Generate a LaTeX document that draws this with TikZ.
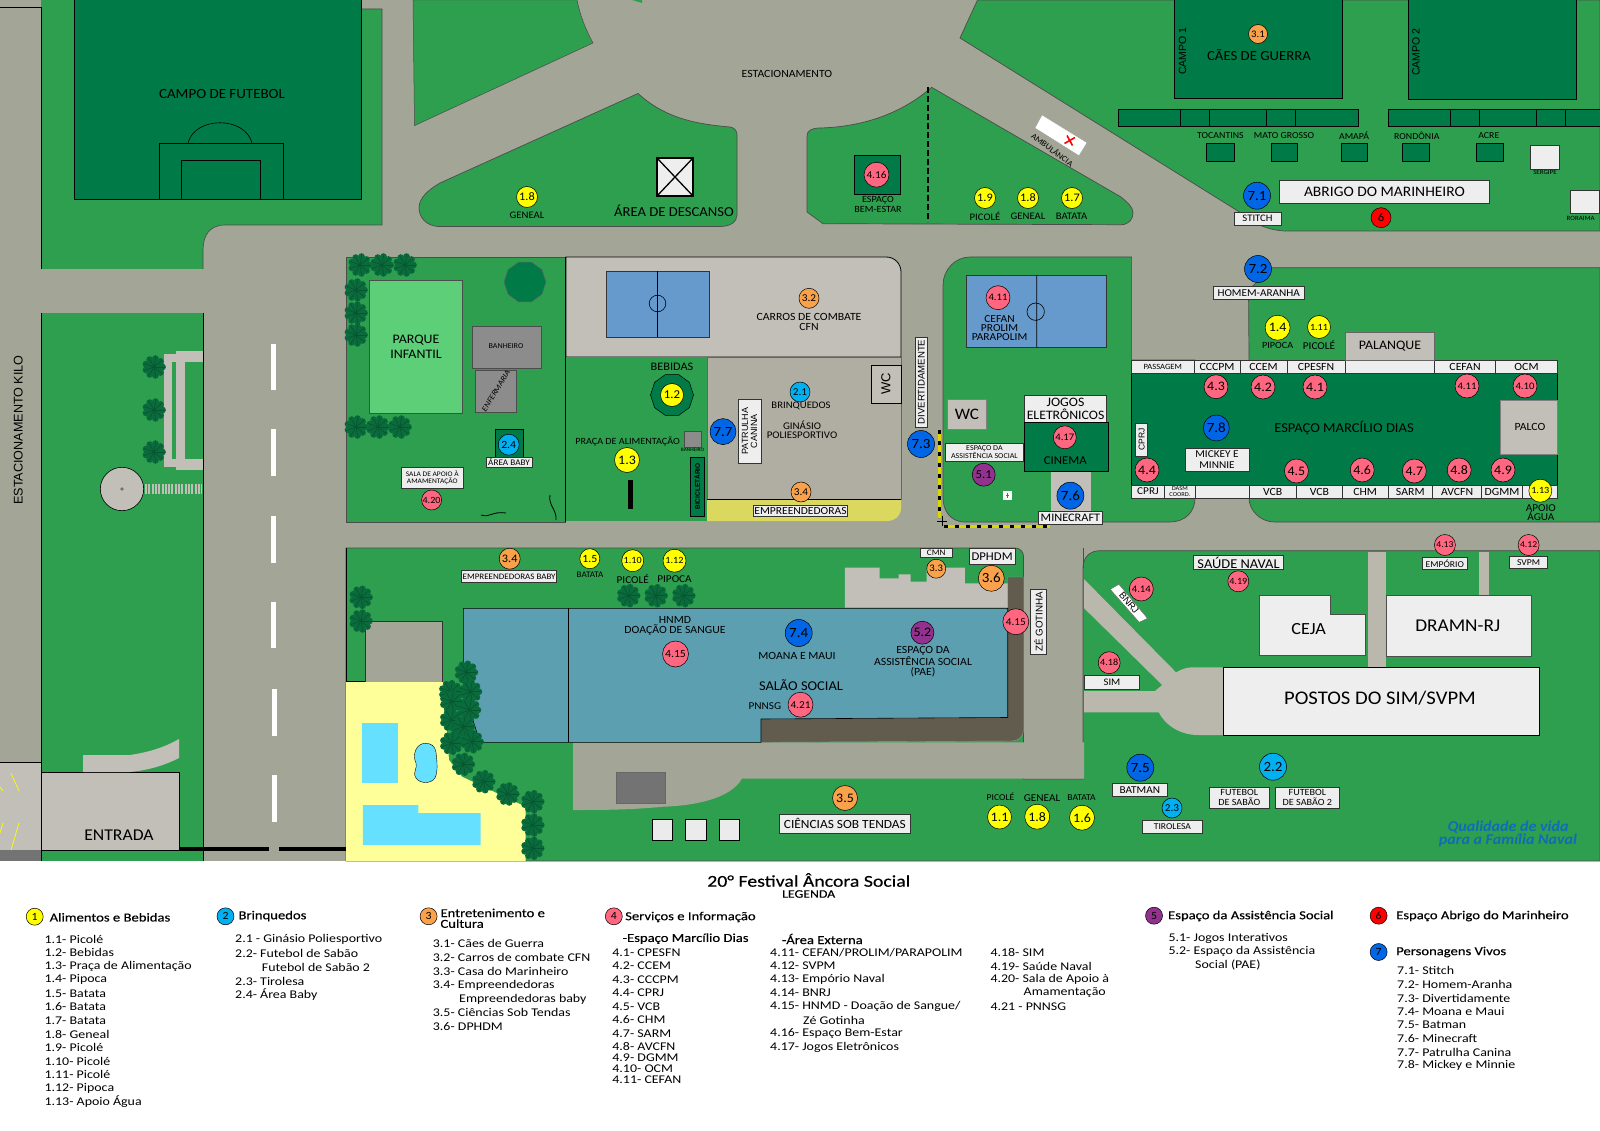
\documentclass[tikz,border=0pt]{standalone}
\usepackage{fontspec}
\setmainfont[FakeStretch=1.07]{Carlito}
\newfontfamily\lsans{Liberation Sans}
\newfontfamily\medf[FakeBold=0.35,FakeStretch=1.2]{Carlito}
\newfontfamily\wide[FakeStretch=1.18]{Carlito}
\usetikzlibrary{shapes.geometric}
\definecolor{road}{HTML}{A3A596}
\definecolor{grass}{HTML}{2E9E4F}
\definecolor{field}{HTML}{007A47}
\definecolor{bldg}{HTML}{C2BFB8}
\definecolor{gym}{HTML}{B0AEA3}
\definecolor{boxf}{HTML}{EEEEEE}
\definecolor{court}{HTML}{6699CC}
\definecolor{hall}{HTML}{5B9FB0}
\definecolor{brownst}{HTML}{625C4E}
\definecolor{pathc}{HTML}{BAB8AD}
\definecolor{pool}{HTML}{66E0FF}
\definecolor{sand}{HTML}{FFFF99}
\definecolor{parkg}{HTML}{5CCF78}
\definecolor{ystrip}{HTML}{DBD860}
\definecolor{mY}{HTML}{FFFF00}
\definecolor{mC}{HTML}{00B0F0}
\definecolor{mO}{HTML}{F9A24B}
\definecolor{mP}{HTML}{FF6680}
\definecolor{mV}{HTML}{93328E}
\definecolor{mR}{HTML}{FF0000}
\definecolor{mB}{HTML}{0066E6}
\definecolor{treeA}{HTML}{0A6B3C}
\definecolor{treeB}{HTML}{07552F}
\definecolor{logoc}{HTML}{0F6CB8}
\newcount\nid
\tikzset{
 gr/.style={fill=grass,draw=black!70,line width=.5pt},
 dk/.style={fill=field,draw=black,line width=.7pt},
 bl/.style={fill=boxf,draw=black!80,line width=.6pt},
 mkst/.style={circle,draw=black,line width=.5pt,inner sep=0pt,text=black}
}
% marker: colour, x, y, radius, font size, label
\newcommand\mk[6]{\global\advance\nid by 1 \node[mkst,fill=#1,minimum size=#4*2pt,font=\fontsize{#5}{#5}\selectfont] (n\the\nid) at (#2,#3) {#6};}
% label: [line height], x, y, size, text
\newcommand\lbl[5][12]{\global\advance\nid by 1 \node[inner sep=0pt,align=center,font=\fontsize{#4}{#1}\selectfont] (n\the\nid) at (#2,#3) {#5};}
% rotated label: angle, x, y, size, text
\newcommand\rlb[5]{\global\advance\nid by 1 \node[inner sep=0pt,rotate=#1,font=\fontsize{#4}{#4}\selectfont] (n\the\nid) at (#2,#3) {#5};}
% box: [node options], x1,y1,x2,y2,size,text
\newcommand\bxx[6][]{\global\advance\nid by 1 \draw[bl] (#2,#3) rectangle (#4,#5) node[pos=.5,inner sep=0pt,align=center,font=\fontsize{#6}{#6}\selectfont,#1] (n\the\nid) {\bxxtext};}
\newcommand\bt[7][]{\def\bxxtext{#7}\bxx[#1]{#2}{#3}{#4}{#5}{#6}}
\newcommand\treeat[2]{\begin{scope}[shift={(#1,#2)}]
 \fill[treeA] (0,0) circle (9);
 \foreach \aa in {0,40,...,320}{\fill[treeA] (\aa:8.5) circle (3.4);\draw[treeB,line width=.6pt] (0,0) -- (\aa:11);}
 \end{scope}}
\newcommand\li[3]{\global\advance\nid by 1 \node[anchor=west,inner sep=0pt,font=\wide\fontsize{11.8}{12}\selectfont] (n\the\nid) at (#1,#2) {#3};}
\newcommand\hd[3]{\global\advance\nid by 1 \node[anchor=west,inner sep=0pt,align=left,font=\medf\fontsize{12.2}{10.7}\selectfont] (n\the\nid) at (#1,#2) {#3};}
\begin{document}
\begin{tikzpicture}[x=1pt,y=-1pt,line cap=butt]
\useasboundingbox (0,0) rectangle (1600,1131);
\fill[white] (0,0) rectangle (1600,1131);
\fill[road] (0,0) rectangle (1600,861);
% ---------- left strip
\draw[black,line width=.8pt] (0,7) -- (41,7);
\fill[bldg] (0,762) rectangle (41,850);
\fill[black!55] (0,850) rectangle (41,861);
\draw[black,line width=.8pt] (0,762) -- (41,762);
\draw[mY,line width=.7pt] (11,773)--(19,791) (0,787)--(3,791) (19,823)--(11,850) (3,823)--(0,833);
\node[rotate=90,inner sep=0pt,font=\lsans\fontsize{12.6}{12.6}\selectfont] (kilo) at (18.4,430) {ESTACIONAMENTO KILO};
% ---------- green top left
\fill[grass] (41,0)--(361,0)--(361,9)--(382,9)--(382,225)--(225,225) .. controls (210,225) and (203,235) .. (203,250)--(203,269)--(41,269)--cycle;
\draw[black,line width=.7pt] (41,7)--(41,269);
\draw[black!70,line width=.6pt] (361,9)--(382,9)--(382,225)--(225,225) .. controls (210,225) and (203,235) .. (203,250)--(203,269);
\draw[dk] (74.5,-1) rectangle (361,199.5);
\draw[black,line width=.5pt] (159,199.5)--(159,143)--(283,143)--(283,199.5) (181,199.5)--(181,160)--(260,160)--(260,199.5);
\draw[black,line width=.6pt] (188,143) .. controls (195,116) and (245,116) .. (252,143);
\lbl{222}{94}{14}{CAMPO DE FUTEBOL}
% ---------- green triangles top
\draw[gr] (413,0)--(414.5,125.6)--(593,43) .. controls (585,28) and (580,15) .. (577,0)--cycle;
\fill[grass] (632,0)--(642,3)--(642,0)--cycle;
\draw[gr,line width=.7pt] (638,93.5) .. controls (665,118) and (695,124) .. (730,127) .. controls (735,128) and (737,131) .. (737,135)--(737,215) .. controls (737,222) and (730,226.5) .. (720,226.5)--(440,226.5) .. controls (425,226.5) and (419,216) .. (419,208) .. controls (419,198) and (428,190) .. (440,183)--cycle;
\draw[fill=boxf,draw=black,line width=1.3pt] (657,158) rectangle (693,196);
\draw[black,line width=1.3pt] (657,158)--(693,196) (693,158)--(657,196);
\lbl{674}{211}{13.7}{ÁREA DE DESCANSO}
\mk{mY}{527}{197}{10.5}{11.5}{1.8}
\lbl{527}{215}{10}{GENEAL}
\lbl{787}{73.5}{11}{ESTACIONAMENTO}
% ---------- bem-estar / triangle
\draw[gr,line width=.7pt] (931.6,87.3) .. controls (900,115) and (860,127) .. (820,128) .. controls (811,128) and (807,131) .. (807,136)--(807,212)--(823,223.7)--(1121,224.7) .. controls (1129,224.7) and (1133,219) .. (1133,213) .. controls (1133,207) and (1128,203) .. (1121,197)--cycle;
\draw[black,line width=1.1pt,dash pattern=on 6pt off 3pt] (928,87) -- (928,222);
\draw[dk] (854.6,155) rectangle (900.5,194);
\mk{mP}{876.5}{174.7}{12.5}{10.5}{4.16}
\lbl[9.2]{878}{204.5}{9.5}{ESPAÇO\\BEM-ESTAR}
\mk{mY}{985}{198}{10.5}{11.5}{1.9}
\mk{mY}{1028}{198}{10.5}{11.5}{1.8}
\mk{mY}{1072}{198}{10.5}{11.5}{1.7}
\lbl{985}{216}{10}{PICOLÉ}
\lbl{1028}{216}{10}{GENEAL}
\lbl{1071.5}{216}{10}{BATATA}
\fill[white,draw=black!40,line width=.3pt] (1042,115)--(1087,142.7)--(1079,155.7)--(1035,128)--cycle;
\draw[mR,line width=1.6pt] (1064.5,143.5)--(1075,137.5) (1067,135.5)--(1072.5,145.5);
\rlb{-37}{1052.5}{149.5}{8.3}{AMBULÂNCIA}
% ---------- top right green
\draw[gr,line width=.7pt] (977.5,0)--(960,38)--(1239,211.7) .. controls (1250,222) and (1268,231) .. (1287,231)--(1600,231)--(1600,0)--cycle;
\draw[dk] (1174.5,-1) rectangle (1342,98.5);
\draw[dk] (1408.7,-1) rectangle (1576.5,99.5);
\node[rotate=90,inner sep=0pt,font=\lsans\fontsize{10.5}{10.5}\selectfont] (c1) at (1182.6,51) {CAMPO 1};
\node[rotate=90,inner sep=0pt,font=\lsans\fontsize{10.5}{10.5}\selectfont] (c2) at (1416,52) {CAMPO 2};
\mk{mO}{1258}{34}{9.5}{10}{3.1}
\lbl{1259}{55}{13.8}{CÃES DE GUERRA}
\draw[dk] (1118,109) rectangle (1358.7,126.7);
\draw[black,line width=.5pt] (1180.6,109)--(1180.6,126.7) (1209.7,109)--(1209.7,126.7) (1266.3,109)--(1266.3,126.7) (1295.4,109)--(1295.4,126.7);
\draw[dk] (1388,109) rectangle (1601,126.7);
\draw[black,line width=.5pt] (1450.5,109)--(1450.5,126.7) (1479.6,109)--(1479.6,126.7) (1536.7,109)--(1536.7,126.7) (1565.3,109)--(1565.3,126.7);
\lbl{1220.4}{135.3}{9.2}{TOCANTINS}
\lbl{1284}{135.3}{9.2}{MATO GROSSO}
\lbl{1354}{135.3}{9.2}{AMAPÁ}
\lbl{1416.8}{135.3}{9.2}{RONDÔNIA}
\lbl{1488.8}{135.3}{9.2}{ACRE}
\foreach \xa/\xb in {1206.6/1234,1271/1297.4,1340.8/1367.3,1402.5/1429,1476.5/1503.6}{\draw[dk,line width=.5pt] (\xa,143.3) rectangle (\xb,161.7);}
\draw[bl] (1530.6,145) rectangle (1559.7,169);
\lbl{1545}{172.7}{6.5}{SERGIPE}
\draw[bl] (1570.4,190.7) rectangle (1599,213.3);
\lbl{1580.6}{218}{6.5}{RORAIMA}
\bt{1279.6}{180}{1489.3}{203.3}{14.5}{ABRIGO DO MARINHEIRO}
\mk{mB}{1257}{195.7}{13.5}{14}{7.1}
\bt{1234}{212.3}{1281}{225}{10}{STITCH}
\mk{mR}{1381}{217.7}{10}{12}{6}
% ---------- parque block
\draw[gr,line width=.7pt] (346,257)--(565,257)--(565,522)--(346,522)--cycle;
\draw[fill=parkg,draw=black!70,line width=.5pt] (369.5,280) rectangle (462.5,413);
\lbl[15]{416}{346.5}{13}{PARQUE\\INFANTIL}
\draw[fill=black!45,draw=black!70,line width=.5pt] (472.5,326) rectangle (541,368);
\lbl{506}{346}{7.5}{BANHEIRO}
\draw[fill=black!45,draw=black!70,line width=.5pt] (475,370.5) rectangle (516,412.5);
\rlb{58}{496}{391}{8}{\itshape ENFERMARIA}
\node[regular polygon,regular polygon sides=10,minimum size=42pt,inner sep=0pt,fill=field,draw=black!60,line width=.5pt] (oct1) at (525,282) {};
\foreach \xx/\yy in {360/265,382/265,405/265,356/290,356/313,356/335,356/427,378/427,400/427}{\treeat{\xx}{\yy}}
\draw[dk,line width=.3pt] (495,429) rectangle (523.5,457);
\mk{mC}{508.7}{444.7}{10.5}{11}{2.4}
\bt{486}{457}{532}{467}{8.6}{ÁREA BABY}
\bt{401.5}{467}{463}{488}{7}{SALA DE APOIO À\\AMAMENTAÇÃO}
\mk{mP}{431.6}{500}{10}{9.5}{4.20}
\draw[black,line width=.8pt] (550,495) .. controls (548,505) and (557,510) .. (556,520) (481,515) .. controls (490,518) and (492,511) .. (506,513);
% ---------- ginasio block
\filldraw[fill=bldg,draw=black,line width=.8pt] (566,257)--(886,257) .. controls (895,257) and (901,264) .. (901,272)--(901,357)--(566,357)--cycle;
\fill[grass] (566,357) rectangle (707,521);
\filldraw[fill=gym,draw=black!60,line width=.5pt] (707,357)--(901,357)--(901,499)--(707,499)--cycle;
\fill[ystrip] (707,499)--(901,499)--(901,508) .. controls (901,516) and (895,521) .. (887,521)--(707,521)--cycle;
\draw[black,line width=.8pt] (707,499)--(901,499);
\draw[black,line width=1.5pt] (565.5,257)--(565.5,522);
\draw[fill=court,draw=black!80,line width=.6pt] (606,271) rectangle (709,337);
\draw[black,line width=.6pt] (657.5,271)--(657.5,337);
\draw[black,line width=.6pt] (657.5,303.5) circle (8.3);
\mk{mO}{809}{298.3}{10}{10.5}{3.2}
\lbl[10.5]{809}{322}{11}{CARROS DE COMBATE\\CFN}
\lbl{672}{367}{11.5}{BEBIDAS}
\node[regular polygon,regular polygon sides=10,minimum size=43pt,inner sep=0pt,fill=field,draw=black,line width=.5pt] (oct2) at (672,395) {};
\mk{mY}{672}{395}{11.5}{12}{1.2}
\mk{mC}{800}{392}{10}{10.5}{2.1}
\lbl{801}{406}{10}{BRINQUEDOS}
\lbl[9.5]{802}{430}{10.2}{GINÁSIO\\POLIESPORTIVO}
\mk{mB}{723}{431.6}{13}{14}{7.7}
\bt[rotate=90]{738}{399}{761}{463}{9}{\lsans PATRULHA\\\lsans CANINA}
\lbl{627.5}{441.7}{9.5}{PRAÇA DE ALIMENTAÇÃO}
\filldraw[fill=black!45,draw=black!70,line width=.4pt] (684,431) rectangle (701.5,447);
\lbl{692.5}{450}{5}{BANHEIRO}
\mk{mY}{627}{460}{12.5}{13}{1.3}
\fill[black] (628,480) rectangle (633,509);
\draw[dk,line width=.3pt] (690,457) rectangle (704,516);
\node[rotate=90,inner sep=0pt,font=\lsans\bfseries\fontsize{6.5}{7}\selectfont] (bici) at (697,486.5) {BICICLETÁRIO};
\bt{753.6}{505}{847.4}{516.7}{10.8}{EMPREENDEDORAS}
\mk{mO}{801}{492}{10}{10.5}{3.4}
\draw[fill=bldg,draw=black,line width=.7pt] (871.4,365) rectangle (901,403);
\node[rotate=90,inner sep=0pt,font=\lsans\fontsize{13}{13}\selectfont] (wc1) at (886,384) {WC};
\bt[rotate=90]{915}{337}{927.5}{427}{9.6}{\lsans DIVERTIDAMENTE}
\mk{mB}{921}{444}{13.5}{14}{7.3}
% ---------- cinema block
\draw[gr,line width=.7pt] (970,257)--(1131.6,257)--(1131.6,360)--(1195,360)--(1195,498) .. controls (1195,512) and (1185,522) .. (1170,522)--(965,522) .. controls (950,522) and (943,510) .. (943,498)--(943,285) .. controls (943,270) and (955,257) .. (970,257)--cycle;
\draw[fill=court,draw=black!80,line width=.6pt] (966.3,275.3) rectangle (1106.6,347.7);
\draw[black,line width=.6pt] (1036.7,275.3)--(1036.7,347.7) (1035.7,311.7) circle (8.7);
\mk{mP}{998}{297.7}{12}{10}{4.11}
\lbl[9.2]{999.5}{328.3}{10.7}{CEFAN\\PROLIM\\PARAPOLIM}
\draw[fill=bldg,draw=black!50,line width=.5pt] (947.4,399.3) rectangle (986.2,429);
\lbl{967}{414}{16}{WC}
\bt{1024.5}{395.7}{1106.6}{422.7}{12.9}{JOGOS\\ELETRÔNICOS}
\draw[dk,line width=.5pt] (1024.5,422.7) rectangle (1108.7,471.7);
\mk{mP}{1064.8}{437.3}{11.5}{10}{4.17}
\lbl{1065.3}{460.7}{12}{CINEMA}
\fill[bldg] (1051,472.3) rectangle (1090.8,511.7);
\mk{mB}{1070.4}{495.7}{13.5}{14}{7.6}
\bt{1038.3}{511.7}{1102.6}{524}{11.5}{MINECRAFT}
\bt{945.4}{443.3}{1023.5}{461}{7.5}{ESPAÇO DA\\ASSISTÊNCIA SOCIAL}
\mk{mV}{983.7}{474.7}{11.5}{12}{5.1}
\fill[white] (1003,491) rectangle (1012,500);
\draw[black!60,line width=.3pt] (1007.5,493)--(1007.5,498) (1006,495.5)--(1009,495.5);
\draw[mY!85!black,line width=3pt] (939,430)--(939,518) (944,526.7)--(1050,526.7);
\draw[black,line width=3pt,dash pattern=on 4pt off 7pt] (939,430)--(939,518) (944,526.7)--(1050,526.7);
\draw[black,line width=.7pt] (937,521)--(947,521) (942,516)--(942,526);
% ---------- marcilio block
\draw[gr,line width=.7pt] (1272,267.7)--(1600,267.7)--(1600,522)--(1274.5,522) .. controls (1260,522) and (1249,510) .. (1249,498)--(1249,360)--(1248.5,290)--cycle;
\draw[dk] (1131.6,360) rectangle (1557.6,498);
\fill[boxf] (1131.6,360) rectangle (1557.6,373);
\foreach \xa/\xb/\sz/\tx in {1131.6/1194/8/PASSAGEM,1194/1240/11/CCCPM,1240/1287/11/CCEM,1287/1345/11/CPESFN,1345/1434.7/11/{},1434.7/1495.4/11/CEFAN,1495.4/1557.6/11/OCM}{
 \global\advance\nid by 1 \draw[bl,line width=.5pt] (\xa,360) rectangle (\xb,373) node[pos=.5,inner sep=0pt,font=\fontsize{\sz}{\sz}\selectfont] (n\the\nid) {\tx};}
\draw[fill=bldg,draw=black!60,line width=.5pt] (1345.4,332.3) rectangle (1434.7,360);
\lbl{1390}{346}{13}{PALANQUE}
\mk{mP}{1216}{386.7}{12}{13}{4.3}
\mk{mP}{1263}{387}{12}{13}{4.2}
\mk{mP}{1315}{387}{12}{13}{4.1}
\mk{mP}{1467}{386}{12}{10}{4.11}
\mk{mP}{1525}{386}{12}{10}{4.10}
\mk{mB}{1216.3}{428}{13}{14}{7.8}
\lbl{1344}{428}{13.6}{ESPAÇO MARCÍLIO DIAS}
\draw[fill=bldg,draw=black!50,line width=.5pt] (1500.5,400) rectangle (1557.6,454);
\lbl{1530}{427}{11}{PALCO}
\bt[rotate=90]{1135.7}{423.3}{1147.5}{456}{8.5}{\lsans CPRJ}
\bt{1185}{448.3}{1249}{471}{10.5}{MICKEY E\\MINNIE}
\mk{mP}{1147}{470}{12}{13}{4.4}
\mk{mP}{1296.4}{471}{12}{13}{4.5}
\mk{mP}{1362.2}{470}{12}{13}{4.6}
\mk{mP}{1414.3}{471}{12}{13}{4.7}
\mk{mP}{1459.2}{470}{12}{13}{4.8}
\mk{mP}{1503}{470}{12}{13}{4.9}
\foreach \xa/\xb/\sz/\tx in {1131.6/1164.3/10.5/CPRJ,1164.3/1195.4/6/{DASM\\COORD.},1195.4/1249/11/{},1249/1296.4/11/VCB,1296.4/1342.4/11/VCB,1342.4/1387.8/11/CHM,1387.8/1432.7/11/SARM,1432.7/1481.6/11/AVCFN,1481.6/1522.4/11/DGMM,1522.4/1557.6/11/{}}{
 \global\advance\nid by 1 \draw[bl,line width=.5pt] (\xa,485) rectangle (\xb,498) node[pos=.5,inner sep=0pt,align=center,font=\fontsize{\sz}{\sz}\selectfont] (n\the\nid) {\tx};}
\mk{mY}{1540.3}{490.7}{11.5}{9.5}{1.13}
\lbl[9]{1540.8}{512.2}{10.5}{APOIO\\ÁGUA}
\mk{mB}{1258}{269}{13.5}{14}{7.2}
\bt{1212.8}{286.7}{1304.6}{299.3}{10.5}{HOMEM-ARANHA}
\mk{mY}{1277.6}{327.7}{12.5}{13}{1.4}
\lbl{1277.6}{345}{9.5}{PIPOCA}
\mk{mY}{1319}{327}{11.5}{9.5}{1.11}
\lbl{1319}{345}{10.5}{PICOLÉ}
% ---------- lower green
\draw[gr,line width=.7pt] (346,548)--(1015,548) .. controls (1020,548) and (1023.5,552) .. (1023.5,556)--(1023.5,779)--(1083,779)--(1083,568) .. controls (1083,557) and (1090,550.7) .. (1100,550.7)--(1600,550.7)--(1600,861)--(346,861)--cycle;
% roads
\fill[road] (573,742.3)--(1084,742.3)--(1084,778.6)--(742,778.6) .. controls (730,800) and (690,806) .. (663,806.7) .. controls (630,810) and (600,810) .. (573,810)--cycle;
\draw[black!70,line width=.6pt] (1083,548)--(1083,568);
\fill[sand] (346,681.7)--(443,681.7)--(449,760)--(462,776.7)--(525.5,806.7)--(525.5,861)--(346,861)--cycle;
\draw[black,line width=.7pt] (346,548)--(346,681.7)--(443,681.7);
\draw[fill=road,draw=black!80,line width=.5pt] (365.3,681.7)--(365.3,621.3)--(442.3,621.3)--(442.3,681.7);
\filldraw[fill=brownst,draw=black!40,line width=.4pt] (1007.7,577)--(1023.5,577)--(1023.5,730) .. controls (1023.5,737) and (1018,741) .. (1012,741)--(761,742.3)--(761,719)--(1007.7,717.5)--cycle;
\draw[fill=hall,draw=black,line width=.6pt] (463.3,608.3)--(1007.7,608.3)--(1007.7,717.5)--(761,719)--(761,742.3)--(480,742.3)--(463.3,690)--cycle;
\draw[black,line width=.5pt] (568.4,608.3)--(568.4,742.3);
\fill[bldg] (844.9,567.7)--(879.6,567.7)--(879.6,578.3)--(898.5,578.3)--(898.5,574.3)--(910.7,574.3)--(910.7,581.7)--(926.5,581.7)--(926.5,567.7)--(964.8,567.7)--(964.8,583.3)--(1007.7,583.3)--(1007.7,607.7)--(844.9,607.7)--cycle;
\bt{920.4}{548}{952}{557.3}{8.5}{CMN}
\mk{mO}{936.2}{568.7}{9.5}{10}{3.3}
\bt{968.9}{548.7}{1015.3}{564.3}{11.9}{DPHDM}
\mk{mO}{991.3}{578.3}{13}{14}{3.6}
\mk{mP}{1015.8}{621.7}{13}{10.5}{4.15}
\bt[rotate=90]{1030.6}{589.3}{1046.4}{654.3}{9.8}{\lsans ZÉ GOTINHA}
\lbl[9.2]{675}{625.8}{11}{HNMD\\DOAÇÃO DE SANGUE}
\mk{mP}{675.5}{654}{13}{11}{4.15}
\mk{mB}{798.7}{633}{13.5}{14}{7.4}
\lbl{797}{656}{11}{MOANA E MAUI}
\lbl{801}{685}{13.5}{SALÃO SOCIAL}
\lbl{764.8}{706.3}{10.5}{PNNSG}
\mk{mP}{800.5}{704.7}{12.5}{10.5}{4.21}
\mk{mV}{922.4}{632.7}{11.5}{13}{5.2}
\lbl[10]{923}{662}{11}{ESPAÇO DA\\ASSISTÊNCIA SOCIAL\\(PAE)}
\mk{mO}{509.7}{558.7}{10.5}{11.5}{3.4}
\bt{461.7}{570.7}{556.6}{582}{8.4}{EMPREENDEDORAS BABY}
\mk{mY}{589.8}{558.7}{10}{11}{1.5}
\lbl{590}{574.3}{8.5}{BATATA}
\mk{mY}{632.7}{560.7}{11}{9.5}{1.10}
\lbl{632.7}{578.7}{10.5}{PICOLÉ}
\mk{mY}{674.5}{560.7}{11.5}{9.5}{1.12}
\lbl{674.5}{578.7}{10.5}{PIPOCA}
% pools
\fill[pool] (362.2,723.3) rectangle (398,782.7);
\draw[fill=pool,draw=black,line width=.4pt] (425.5,743.3) .. controls (416,743.3) and (412,755) .. (416,763) .. controls (418,768) and (412,772) .. (416,778) .. controls (420,784) and (431,784) .. (435,778) .. controls (439,770) and (436,755) .. (436,752) .. controls (435,746) and (431,743.3) .. (425.5,743.3)--cycle;
\fill[pool] (362.8,805)--(418.4,805)--(418.4,813)--(480.6,813)--(480.6,845)--(362.8,845)--cycle;
\foreach \xx/\yy in {628.6/595.7,656/595.7,683.7/595.7,361/597.3,361/621,466.3/672.3,450.5/691.7,470.4/691.7,451.5/701.7,469.4/710,451.5/720,463.3/726.7,451.5/743.3,472/741.7,463.3/764.3,483.7/781.7,507.7/794,532.7/801.7,532.7/825,532.7/848.3}{\treeat{\xx}{\yy}}
\draw[fill=black!55,draw=black!60,line width=.4pt] (615.8,772.3) rectangle (664.8,802.7);
\foreach \xa/\xb in {652.6/672.4,685.7/706,719.4/739.3}{\draw[fill=black!8,draw=black,line width=.5pt] (\xa,819.3) rectangle (\xb,840.3);}
\mk{mO}{845}{798}{12.5}{13}{3.5}
\bt{779}{814.3}{910.7}{833.3}{12.5}{CIÊNCIAS SOB TENDAS}
\mk{mY}{999.5}{817}{12}{13}{1.1}
\lbl{1000.5}{797}{9}{PICOLÉ}
\mk{mY}{1037.2}{816.7}{12.5}{13}{1.8}
\lbl{1042}{798.3}{10.5}{GENEAL}
\mk{mY}{1082}{817.7}{12.5}{13}{1.6}
\lbl{1081.6}{798}{9}{BATATA}
\mk{mB}{1140.3}{767.7}{13.5}{14}{7.5}
\bt{1112.2}{783.7}{1167.3}{796}{10.5}{BATMAN}
\mk{mC}{1172}{808}{10}{10.5}{2.3}
\bt{1142.3}{820.7}{1202.6}{833}{9}{TIROLESA}
\mk{mC}{1273}{766.7}{13.5}{14}{2.2}
\bt{1209.7}{787}{1268.9}{808}{9.5}{FUTEBOL\\DE SABÃO}
\bt{1275.5}{787}{1339.3}{808}{9.5}{FUTEBOL\\DE SABÃO 2}
\node[inner sep=0pt,align=center,text=logoc,font=\itshape\bfseries\fontsize{15}{12.5}\selectfont] (logo1) at (1508,834) {Qualidade de vida\\para a Família Naval};
% light paths
\fill[pathc] (1084.2,579.3)--(1176,672.3) .. controls (1182,669) and (1187,667.3) .. (1193,667.3)--(1223.5,667.3)--(1223.5,735)--(1198,735) .. controls (1180,735) and (1165,725) .. (1158.7,712.3)--(1084.2,712.3)--(1084.2,691)--(1155,691)--(1162.2,685)--(1084.2,608.3)--cycle;
\fill[pathc] (1367.9,552) rectangle (1385.7,667.3);
\fill[pathc] (1479,552) rectangle (1488.8,595);
\bt{1193.4}{555.7}{1283.7}{569.3}{13.5}{SAÚDE NAVAL}
\mk{mP}{1238.3}{581.3}{10.5}{9.5}{4.19}
\mk{mP}{1141.3}{589}{12}{10}{4.14}
\draw[fill=white,draw=black!60,line width=.4pt] (1118.9,584.3)--(1147.4,618.3)--(1139.3,622.3)--(1110.2,589.3)--cycle;
\rlb{-50}{1129}{603}{9.5}{\lsans BNRJ}
\draw[fill=boxf,draw=black!70,line width=.5pt] (1259.7,595.7)--(1330,595.7)--(1330,614)--(1365.3,614)--(1365.3,655.7)--(1259.7,655.7)--cycle;
\lbl{1308.7}{629}{17}{CEJA}
\draw[fill=boxf,draw=black!70,line width=.5pt] (1386.7,595.7) rectangle (1531.6,656);
\lbl{1457.7}{625.3}{18}{DRAMN-RJ}
\draw[fill=boxf,draw=black,line width=.6pt] (1223.5,667.7) rectangle (1539.3,735);
\lbl{1380}{698.7}{19.3}{POSTOS DO SIM/SVPM}
\mk{mP}{1109.2}{662.7}{11}{9.5}{4.18}
\bt{1084.7}{675.7}{1139.3}{689.3}{10}{SIM}
\mk{mP}{1444.9}{545}{10.5}{9}{4.13}
\bt{1422.4}{557.3}{1467.3}{569.3}{9}{EMPÓRIO}
\mk{mP}{1528.6}{545}{10.5}{9}{4.12}
\bt{1509.7}{556.7}{1547.4}{568.7}{9}{SVPM}
% ---------- road left of block, entrance, green C
\fill[grass] (41,313)--(203,313)--(203,861)--(41,861)--cycle;
\draw[black,line width=.7pt] (41,313)--(41,861) (203,313)--(203,861);
\filldraw[fill=bldg,draw=black,line width=.7pt] (41,772) rectangle (179,850);
\fill[bldg] (83,755)--(130,755) .. controls (150,752) and (165,747) .. (179,739)--(179,758) .. controls (165,765) and (150,770) .. (130,772)--(83,772)--cycle;
\lbl{119}{835}{16.5}{ENTRADA}
\draw[fill=bldg,draw=black,line width=.6pt] (122,489) circle (21.7);
\fill[black!55] (122,489) circle (1.8);
\draw[bldg,line width=10pt,dash pattern=on 2pt off 1.3pt] (145,489)--(201.5,489);
\fill[bldg] (164,354) rectangle (172,467);
\fill[bldg] (176,351) rectangle (185,470);
\fill[bldg] (164,354) rectangle (203,362);
\fill[bldg] (176,351) rectangle (203,358);
\fill[bldg] (164,459) rectangle (203,467);
\fill[bldg] (176,462) rectangle (203,470);
\foreach \xx/\yy in {154/367,154/410,154/452}{\treeat{\xx}{\yy}}
\fill[black] (179,847) rectangle (269,851);
\fill[black] (279,847) rectangle (346,851);
\foreach \dx/\dy/\dz in {271/344/390,271/429/476,271/516/563,271/602/648,272/689/736,272/775/822}{\fill[white] (\dx,\dy) rectangle (\dx+5,\dz);}
% ---------- legend
\lbl[15]{808.8}{880}{16.5}{\medf 20° Festival Âncora Social}
\lbl{808.7}{894}{11.5}{\medf LEGENDA}
\mk{mY}{34.7}{916.7}{8.5}{11}{1}
\hd{49.5}{917.3}{Alimentos e Bebidas}
\foreach \itm [count=\nn from 0] in {1.1- Picolé,1.2- Bebidas,1.3- Praça de Alimentação,1.4- Pipoca,1.5- Batata,1.6- Batata,1.7- Batata,1.8- Geneal,1.9- Picolé,1.10- Picolé,1.11- Picolé,1.12- Pipoca,1.13- Apoio Água}{\pgfmathsetmacro\yy{939+13.58*\nn}\li{44.4}{\yy}{\itm}}
\mk{mC}{225.5}{916.3}{8.5}{11}{2}
\hd{238.3}{916}{Brinquedos}
\li{235}{939.3}{2.1 - Ginásio Poliesportivo}
\li{235}{953.3}{2.2- Futebol de Sabão}
\li{261.7}{967.3}{Futebol de Sabão 2}
\li{235}{981}{2.3- Tirolesa}
\li{235}{995}{2.4- Área Baby}
\mk{mO}{428.6}{916.3}{8.5}{11}{3}
\hd{440.3}{918.3}{Entretenimento e\\Cultura}
\li{432.7}{943.3}{3.1- Cães de Guerra}
\li{432.7}{957.3}{3.2- Carros de combate CFN}
\li{432.7}{971}{3.3- Casa do Marinheiro}
\li{432.7}{985}{3.4- Empreendedoras}
\li{459}{999}{Empreendedoras baby}
\li{432.7}{1012.7}{3.5- Ciências Sob Tendas}
\li{432.7}{1026.7}{3.6- DPHDM}
\mk{mP}{613.8}{916.3}{8.5}{11}{4}
\hd{625}{917}{Serviços e Informação}
\hd{622.4}{938.7}{-Espaço Marcílio Dias}
\li{612.2}{952.3}{4.1- CPESFN}
\li{612.2}{965.7}{4.2- CCEM}
\li{612.2}{979.3}{4.3- CCCPM}
\li{612.2}{993}{4.4- CPRJ}
\li{612.2}{1006.7}{4.5- VCB}
\li{612.2}{1020}{4.6- CHM}
\li{612.2}{1033.7}{4.7- SARM}
\li{612.2}{1047}{4.8- AVCFN}
\li{612.2}{1058}{4.9- DGMM}
\li{612.2}{1069}{4.10- OCM}
\li{612.2}{1080}{4.11- CEFAN}
\hd{781.6}{939}{-Área Externa}
\li{770}{952.3}{4.11- CEFAN/PROLIM/PARAPOLIM}
\li{770}{966}{4.12- SVPM}
\li{770}{979.3}{4.13- Empório Naval}
\li{770}{993}{4.14- BNRJ}
\li{770}{1006.7}{4.15- HNMD - Doação de Sangue/}
\li{803}{1020.3}{Zé Gotinha}
\li{770}{1033.7}{4.16- Espaço Bem-Estar}
\li{770}{1047.3}{4.17- Jogos Eletrônicos}
\li{990.3}{952.7}{4.18- SIM}
\li{990.3}{966}{4.19- Saúde Naval}
\li{990.3}{979.3}{4.20- Sala de Apoio à}
\li{1023.5}{993}{Amamentação}
\li{990.3}{1007}{4.21 - PNNSG}
\mk{mV}{1154}{915.7}{8.5}{11}{5}
\hd{1167.9}{916}{Espaço da Assistência Social}
\li{1168.4}{938}{5.1- Jogos Interativos}
\li{1168.4}{951.7}{5.2- Espaço da Assistência}
\li{1195}{965.3}{Social (PAE)}
\mk{mR}{1378.6}{915.7}{8.5}{11}{6}
\hd{1396}{916}{Espaço Abrigo do Marinheiro}
\mk{mB}{1378.6}{952}{8.5}{11}{7}
\hd{1396}{952}{Personagens Vivos}
\li{1397}{970.7}{7.1- Stitch}
\li{1397}{984.3}{7.2- Homem-Aranha}
\li{1397}{998}{7.3- Divertidamente}
\li{1397}{1011.3}{7.4- Moana e Maui}
\li{1397}{1025}{7.5- Batman}
\li{1397}{1038.3}{7.6- Minecraft}
\li{1397}{1052}{7.7- Patrulha Canina}
\li{1397}{1065.3}{7.8- Mickey e Minnie}
\end{tikzpicture}
\end{document}
